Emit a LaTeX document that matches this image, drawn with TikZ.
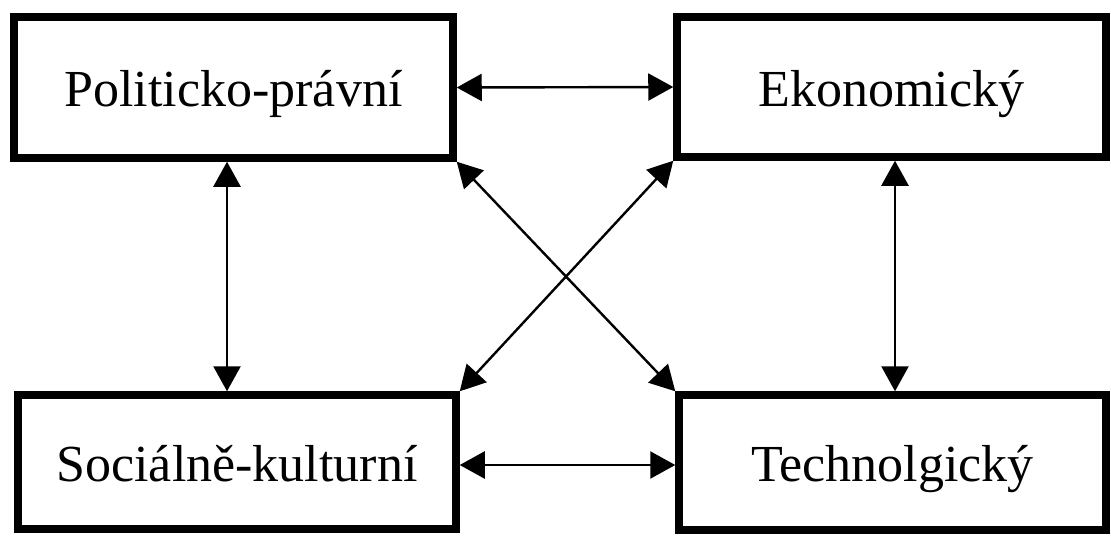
\documentclass[tikz,border=0pt]{standalone}
\usepackage{fontspec}
\setmainfont{Liberation Serif}
\usetikzlibrary{arrows.meta}
\begin{document}
\begin{tikzpicture}[x=1pt,y=-1pt,
  boxnode/.style={draw=black,line width=7.5pt,rectangle,inner sep=0pt,
    font=\fontsize{52}{60}\selectfont,text=black,text height=38pt,text depth=0pt},
  biarrow/.style={line width=2.4pt,{Triangle[length=25pt,width=27pt]}-{Triangle[length=25pt,width=27pt]}}]
\useasboundingbox (0,0) rectangle (1111,536);
\node[boxnode,minimum width=439pt,minimum height=141pt] (tl) at (233.5,87.5) {Politicko-právní};
\node[boxnode,minimum width=429pt,minimum height=140pt] (tr) at (891.5,87) {Ekonomický};
\node[boxnode,minimum width=438pt,minimum height=134pt] (bl) at (237,462) {Sociálně-kulturní};
\node[boxnode,minimum width=427pt,minimum height=135pt] (br) at (892.5,462.5) {Technolgický};
\draw[biarrow] (tl.east) -- (tr.west);
\draw[biarrow] ([yshift=-3pt]bl.east) -- ([yshift=-2.5pt]br.west);
\draw[biarrow] ([xshift=-6.5pt]tl.south) -- ([xshift=-10pt]bl.north);
\draw[biarrow] ([xshift=3.5pt]tr.south) -- ([xshift=2.5pt]br.north);
\draw[biarrow] (tl.south east) -- (br.north west);
\draw[biarrow] (tr.south west) -- (bl.north east);
\end{tikzpicture}
\end{document}
